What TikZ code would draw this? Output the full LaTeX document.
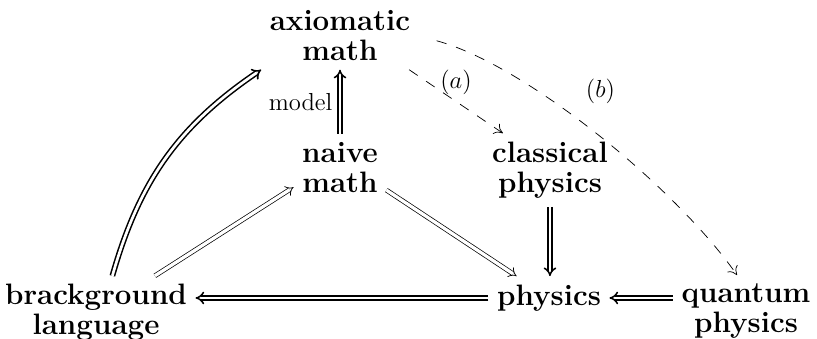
\documentclass[tikz,border=0pt]{standalone}
\usepackage{amsmath}
\usetikzlibrary{arrows.meta,calc}

\begin{document}
\begin{tikzpicture}[
    concept/.style={align=center,inner sep=4pt,
      font=\fontsize{14.4}{14.6}\selectfont\bfseries},
    strongimp/.style={double,line width=0.75pt,double distance=1.3pt,-{Implies}},
    weakimp/.style={double,line width=0.35pt,double distance=1.6pt,-{Implies}},
    dashto/.style={dash pattern=on 5pt off 5pt,line width=0.35pt,-{To[length=4pt,width=6pt]}},
    tag/.style={font=\large}]
  \useasboundingbox (0,0) rectangle (14,5.809);

  % Concept nodes
  \node[concept] (ax) at (5.826,5.192) {axiomatic\\math};
  \node[concept] (nm) at (5.826,2.939) {naive\\math};
  \node[concept] (cp) at (9.424,2.896) {classical\\physics};
  \node[concept] (bl) at (1.645,0.452) {brackground\\language};
  \node[concept] (ph) at (9.407,0.703) {physics};
  \node[concept] (qp) at (12.783,0.480) {quantum\\physics};

  % Strong implications
  \draw[strongimp] (nm.north) -- (ax.south)
        node[midway,left,tag] {model};
  \draw[strongimp] (bl.66) to[bend left=20] (ax.south west);
  \draw[strongimp] (cp.south) -- (cp.south |- ph.north);
  \draw[strongimp] (ph.west) -- (ph.west -| bl.east);
  \draw[strongimp] (ph.east -| qp.west) -- (ph.east);

  % Weak implications
  \draw[weakimp] (bl.32) -- (nm.203);
  \draw[weakimp] (nm.-26) -- (ph.146);

  % Dashed specialisations
  \draw[dashto] (ax.-26) -- (cp.142)
        node[midway,above,tag] {$(a)$};
  \draw[dashto,shorten <=9pt] (ax.east) to[out=-15,in=125,looseness=0.7]
        node[pos=0.44,above right=3pt,tag] {$(b)$} (qp.104);
\end{tikzpicture}
\end{document}
